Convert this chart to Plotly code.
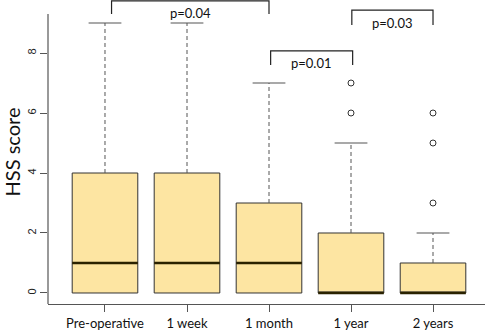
import plotly.graph_objects as go

categories = ["Pre-operative", "1 week", "1 month", "1 year", "2 years"]
q1 = [0, 0, 0, 0, 0]
medians = [1, 1, 1, 0, 0]
q3 = [4, 4, 3, 2, 1]
upper_whisker = [9, 9, 7, 5, 2]
outliers = {3: [6, 7], 4: [3, 5, 6]}
y_ticks = [0, 2, 4, 6, 8]

# comparisons: (left position, right position, label, bracket top, leg bottom)
comparisons = [
    (0.08, 2.0, "p=0.04", 9.74, 9.3),
    (2.02, 3.02, "p=0.01", 8.07, 7.6),
    (3.01, 4.0, "p=0.03", 9.43, 8.93),
]

FILL = "#FDE5A2"
LINE = "#333333"
AX = "#555555"
pos = list(range(len(categories)))
half = 0.4
cap = 0.2

fig = go.Figure()

# dashed whiskers
for i in pos:
    fig.add_trace(go.Scatter(x=[i, i], y=[q3[i], upper_whisker[i]], mode="lines",
                             line=dict(color=AX, width=1, dash="4px,3px"),
                             showlegend=False, hoverinfo="skip"))
    fig.add_trace(go.Scatter(x=[i - cap, i + cap], y=[upper_whisker[i]] * 2, mode="lines",
                             line=dict(color=AX, width=1.2),
                             showlegend=False, hoverinfo="skip"))

# boxes
fig.add_trace(go.Box(x=pos, q1=q1, median=medians, q3=q3, lowerfence=q1, upperfence=q3,
                     width=2 * half, whiskerwidth=0, fillcolor=FILL,
                     line=dict(color=LINE, width=1), boxpoints=False,
                     showlegend=False))

# thick medians
for i in pos:
    fig.add_trace(go.Scatter(x=[i - half, i + half], y=[medians[i]] * 2, mode="lines",
                             line=dict(color="#2a2200", width=2.5),
                             showlegend=False, hoverinfo="skip"))

# outliers
for i, vals in outliers.items():
    fig.add_trace(go.Scatter(x=[i] * len(vals), y=vals, mode="markers",
                             marker=dict(symbol="circle-open", size=6, color=LINE, line=dict(width=1)),
                             showlegend=False, hoverinfo="skip"))

# brackets
for (a, b, lab, top, bot) in comparisons:
    fig.add_trace(go.Scatter(x=[a, a, b, b], y=[bot, top, top, bot], mode="lines",
                             line=dict(color="#222222", width=1.2),
                             showlegend=False, hoverinfo="skip"))
    fig.add_annotation(x=(a + b) / 2, y=top - 0.08, text=lab, showarrow=False,
                       yanchor="top", font=dict(family="Lato", size=13, color="#111111"))

# y axis line drawn only over the original axis extent
fig.add_shape(type="line", xref="paper", yref="y", x0=0, x1=0, y0=-0.367, y1=9.3,
              line=dict(color=AX, width=1.2))

fig.update_layout(
    width=486, height=331,
    margin=dict(l=48, r=1, t=0, b=27),
    plot_bgcolor="white", paper_bgcolor="white",
    xaxis=dict(range=[-0.695, 4.634], tickvals=pos, ticktext=categories,
               showgrid=False, zeroline=False, showline=True, linecolor=AX, linewidth=1.2,
               ticks="outside", ticklen=7, tickcolor=AX,
               tickfont=dict(family="Lato", size=13, color="#111111")),
    yaxis=dict(range=[-0.367, 9.767], tickvals=y_ticks, showgrid=False, zeroline=False,
               showline=False, ticks="outside", ticklen=7, tickcolor=AX, tickangle=-90,
               tickfont=dict(family="Liberation Sans", size=11, color="#222222"),
               title=dict(text="HSS score", font=dict(family="Lato", size=20, color="#111111"),
                          standoff=6)),
)

fig.write_html("out.html", config={"displayModeBar": False},
               post_script="document.body.style.margin='0';")
